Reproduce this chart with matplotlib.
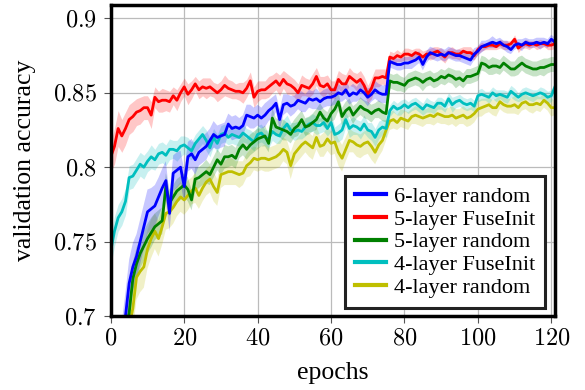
import matplotlib
matplotlib.use('Agg')
import matplotlib.pyplot as plt
import numpy as np

plt.rcParams['font.family'] = ['Liberation Serif', 'DejaVu Serif']
plt.rcParams['mathtext.fontset'] = 'cm'

epochs = np.arange(122)

acc_6_random = [
    0.600, 0.630, 0.660, 0.680, 0.700, 0.722, 0.733, 0.740, 0.750, 0.760,
    0.770, 0.772, 0.774, 0.780, 0.786, 0.791, 0.769, 0.796, 0.798, 0.800,
    0.787, 0.807, 0.809, 0.805, 0.810, 0.812, 0.814, 0.818, 0.822, 0.820,
    0.821, 0.822, 0.829, 0.826, 0.827, 0.826, 0.828, 0.835, 0.834, 0.833,
    0.835, 0.833, 0.835, 0.838, 0.840, 0.843, 0.832, 0.842, 0.843, 0.841,
    0.842, 0.845, 0.844, 0.843, 0.846, 0.845, 0.846, 0.844, 0.846, 0.847,
    0.847, 0.848, 0.850, 0.849, 0.852, 0.848, 0.850, 0.849, 0.852, 0.850,
    0.847, 0.849, 0.852, 0.850, 0.849, 0.849, 0.871, 0.870, 0.869, 0.869,
    0.870, 0.870, 0.871, 0.872, 0.874, 0.869, 0.874, 0.877, 0.876, 0.875,
    0.876, 0.875, 0.877, 0.876, 0.875, 0.875, 0.874, 0.873, 0.872, 0.876,
    0.878, 0.881, 0.882, 0.883, 0.884, 0.883, 0.884, 0.882, 0.881, 0.879,
    0.882, 0.883, 0.882, 0.884, 0.883, 0.883, 0.884, 0.883, 0.884, 0.883,
    0.886, 0.884]
std_6_random = [
    0.016, 0.016, 0.016, 0.016, 0.016, 0.016, 0.016, 0.015, 0.015, 0.015,
    0.015, 0.014, 0.014, 0.013, 0.013, 0.013, 0.012, 0.012, 0.012, 0.011,
    0.011, 0.010, 0.010, 0.010, 0.009, 0.009, 0.009, 0.008, 0.009, 0.008,
    0.008, 0.008, 0.007, 0.008, 0.008, 0.007, 0.007, 0.007, 0.008, 0.007,
    0.007, 0.007, 0.008, 0.007, 0.007, 0.006, 0.007, 0.007, 0.006, 0.007,
    0.006, 0.006, 0.007, 0.006, 0.006, 0.006, 0.007, 0.006, 0.006, 0.006,
    0.006, 0.006, 0.006, 0.005, 0.006, 0.006, 0.006, 0.005, 0.006, 0.006,
    0.006, 0.005, 0.006, 0.006, 0.006, 0.006, 0.004, 0.004, 0.004, 0.004,
    0.004, 0.004, 0.005, 0.004, 0.004, 0.004, 0.004, 0.004, 0.004, 0.004,
    0.004, 0.004, 0.004, 0.004, 0.004, 0.004, 0.004, 0.004, 0.004, 0.004,
    0.003, 0.004, 0.003, 0.003, 0.004, 0.003, 0.003, 0.003, 0.004, 0.003,
    0.003, 0.003, 0.004, 0.003, 0.003, 0.003, 0.003, 0.004, 0.003, 0.003,
    0.003, 0.003]

acc_5_fuse = [
    0.807, 0.814, 0.826, 0.821, 0.826, 0.832, 0.834, 0.837, 0.838, 0.840,
    0.840, 0.835, 0.847, 0.844, 0.845, 0.845, 0.844, 0.848, 0.845, 0.850,
    0.854, 0.849, 0.852, 0.856, 0.852, 0.854, 0.853, 0.854, 0.852, 0.850,
    0.852, 0.855, 0.853, 0.852, 0.851, 0.851, 0.850, 0.853, 0.858, 0.847,
    0.851, 0.852, 0.852, 0.854, 0.856, 0.858, 0.855, 0.859, 0.856, 0.855,
    0.853, 0.850, 0.855, 0.854, 0.853, 0.856, 0.861, 0.855, 0.854, 0.856,
    0.852, 0.852, 0.859, 0.856, 0.856, 0.861, 0.859, 0.857, 0.859, 0.855,
    0.849, 0.853, 0.860, 0.860, 0.861, 0.860, 0.874, 0.873, 0.875, 0.874,
    0.876, 0.876, 0.875, 0.877, 0.876, 0.874, 0.876, 0.876, 0.877, 0.878,
    0.876, 0.874, 0.877, 0.877, 0.876, 0.876, 0.878, 0.877, 0.877, 0.875,
    0.879, 0.881, 0.881, 0.882, 0.882, 0.881, 0.883, 0.882, 0.882, 0.883,
    0.886, 0.880, 0.882, 0.883, 0.882, 0.883, 0.882, 0.883, 0.883, 0.882,
    0.882, 0.883]
std_5_fuse = [
    0.010, 0.012, 0.012, 0.011, 0.011, 0.010, 0.010, 0.009, 0.009, 0.008,
    0.008, 0.009, 0.007, 0.007, 0.008, 0.007, 0.007, 0.006, 0.007, 0.006,
    0.006, 0.007, 0.006, 0.005, 0.006, 0.006, 0.007, 0.006, 0.005, 0.006,
    0.006, 0.007, 0.006, 0.006, 0.005, 0.006, 0.007, 0.006, 0.006, 0.007,
    0.007, 0.006, 0.006, 0.007, 0.006, 0.006, 0.007, 0.006, 0.007, 0.006,
    0.006, 0.006, 0.007, 0.006, 0.006, 0.007, 0.006, 0.006, 0.007, 0.006,
    0.006, 0.006, 0.006, 0.007, 0.006, 0.006, 0.005, 0.006, 0.006, 0.006,
    0.006, 0.007, 0.006, 0.006, 0.005, 0.006, 0.004, 0.004, 0.004, 0.003,
    0.004, 0.004, 0.004, 0.003, 0.004, 0.004, 0.003, 0.004, 0.004, 0.003,
    0.004, 0.004, 0.003, 0.004, 0.003, 0.004, 0.003, 0.004, 0.004, 0.003,
    0.003, 0.003, 0.002, 0.003, 0.003, 0.002, 0.003, 0.003, 0.003, 0.002,
    0.003, 0.003, 0.002, 0.003, 0.003, 0.002, 0.003, 0.003, 0.002, 0.003,
    0.003, 0.003]

acc_5_random = [
    0.600, 0.630, 0.655, 0.675, 0.690, 0.702, 0.725, 0.735, 0.742, 0.747,
    0.752, 0.756, 0.760, 0.762, 0.764, 0.787, 0.776, 0.780, 0.784, 0.786,
    0.788, 0.785, 0.778, 0.792, 0.793, 0.795, 0.797, 0.795, 0.800, 0.805,
    0.802, 0.807, 0.807, 0.808, 0.806, 0.812, 0.815, 0.812, 0.815, 0.817,
    0.819, 0.820, 0.821, 0.816, 0.833, 0.827, 0.826, 0.825, 0.824, 0.822,
    0.826, 0.828, 0.832, 0.827, 0.828, 0.830, 0.832, 0.837, 0.833, 0.831,
    0.836, 0.839, 0.844, 0.834, 0.838, 0.840, 0.835, 0.838, 0.841, 0.839,
    0.838, 0.836, 0.838, 0.839, 0.837, 0.836, 0.858, 0.857, 0.857, 0.856,
    0.855, 0.858, 0.859, 0.860, 0.859, 0.857, 0.859, 0.860, 0.858, 0.859,
    0.861, 0.860, 0.862, 0.861, 0.859, 0.860, 0.858, 0.861, 0.861, 0.862,
    0.863, 0.870, 0.869, 0.867, 0.868, 0.868, 0.867, 0.870, 0.868, 0.866,
    0.866, 0.868, 0.870, 0.868, 0.867, 0.866, 0.866, 0.867, 0.867, 0.868,
    0.869, 0.869]
std_5_random = [
    0.012, 0.012, 0.012, 0.012, 0.012, 0.012, 0.011, 0.011, 0.010, 0.010,
    0.010, 0.010, 0.009, 0.009, 0.009, 0.009, 0.009, 0.008, 0.008, 0.008,
    0.008, 0.008, 0.007, 0.008, 0.007, 0.007, 0.008, 0.007, 0.007, 0.007,
    0.007, 0.008, 0.007, 0.007, 0.007, 0.006, 0.007, 0.007, 0.007, 0.007,
    0.007, 0.006, 0.007, 0.006, 0.007, 0.006, 0.006, 0.007, 0.006, 0.006,
    0.006, 0.007, 0.006, 0.006, 0.006, 0.006, 0.007, 0.006, 0.006, 0.006,
    0.006, 0.007, 0.006, 0.006, 0.006, 0.006, 0.006, 0.005, 0.006, 0.006,
    0.006, 0.006, 0.005, 0.006, 0.006, 0.006, 0.005, 0.005, 0.006, 0.005,
    0.005, 0.005, 0.005, 0.005, 0.005, 0.006, 0.005, 0.005, 0.005, 0.005,
    0.005, 0.005, 0.005, 0.005, 0.006, 0.005, 0.005, 0.005, 0.005, 0.005,
    0.005, 0.005, 0.005, 0.005, 0.006, 0.005, 0.005, 0.005, 0.005, 0.005,
    0.005, 0.006, 0.005, 0.005, 0.005, 0.005, 0.005, 0.005, 0.006, 0.005,
    0.005, 0.005]

acc_4_fuse = [
    0.744, 0.757, 0.766, 0.770, 0.777, 0.793, 0.794, 0.798, 0.802, 0.800,
    0.804, 0.807, 0.805, 0.809, 0.810, 0.808, 0.812, 0.812, 0.811, 0.814,
    0.815, 0.813, 0.811, 0.816, 0.819, 0.822, 0.818, 0.813, 0.820, 0.816,
    0.822, 0.823, 0.820, 0.822, 0.821, 0.820, 0.823, 0.821, 0.819, 0.817,
    0.822, 0.823, 0.820, 0.819, 0.824, 0.822, 0.821, 0.826, 0.829, 0.825,
    0.824, 0.825, 0.824, 0.827, 0.829, 0.830, 0.828, 0.828, 0.830, 0.826,
    0.830, 0.822, 0.823, 0.825, 0.832, 0.826, 0.828, 0.827, 0.825, 0.829,
    0.825, 0.824, 0.820, 0.825, 0.827, 0.826, 0.838, 0.841, 0.839, 0.840,
    0.842, 0.840, 0.842, 0.843, 0.841, 0.839, 0.842, 0.841, 0.840, 0.843,
    0.843, 0.841, 0.846, 0.842, 0.844, 0.845, 0.843, 0.842, 0.843, 0.841,
    0.848, 0.849, 0.848, 0.847, 0.850, 0.848, 0.849, 0.848, 0.847, 0.851,
    0.849, 0.847, 0.849, 0.850, 0.849, 0.848, 0.849, 0.850, 0.849, 0.847,
    0.848, 0.854]
std_4_fuse = [
    0.010, 0.010, 0.009, 0.009, 0.009, 0.008, 0.008, 0.008, 0.008, 0.008,
    0.007, 0.008, 0.007, 0.007, 0.007, 0.007, 0.007, 0.006, 0.007, 0.007,
    0.006, 0.007, 0.006, 0.006, 0.006, 0.006, 0.007, 0.006, 0.006, 0.006,
    0.006, 0.006, 0.005, 0.006, 0.006, 0.006, 0.006, 0.005, 0.006, 0.006,
    0.006, 0.006, 0.005, 0.006, 0.006, 0.006, 0.005, 0.006, 0.006, 0.005,
    0.006, 0.006, 0.005, 0.006, 0.005, 0.006, 0.006, 0.005, 0.006, 0.005,
    0.006, 0.005, 0.006, 0.006, 0.005, 0.006, 0.006, 0.005, 0.006, 0.006,
    0.005, 0.006, 0.006, 0.006, 0.005, 0.006, 0.004, 0.004, 0.004, 0.005,
    0.004, 0.004, 0.004, 0.004, 0.004, 0.004, 0.005, 0.004, 0.004, 0.004,
    0.004, 0.004, 0.004, 0.005, 0.004, 0.004, 0.004, 0.004, 0.004, 0.004,
    0.004, 0.004, 0.003, 0.004, 0.004, 0.004, 0.003, 0.004, 0.004, 0.004,
    0.004, 0.003, 0.004, 0.004, 0.004, 0.004, 0.003, 0.004, 0.004, 0.004,
    0.004, 0.004]

acc_4_random = [
    0.590, 0.620, 0.645, 0.665, 0.680, 0.693, 0.705, 0.726, 0.730, 0.733,
    0.745, 0.752, 0.757, 0.752, 0.760, 0.769, 0.770, 0.773, 0.777, 0.780,
    0.778, 0.781, 0.784, 0.786, 0.781, 0.786, 0.790, 0.792, 0.787, 0.783,
    0.795, 0.796, 0.797, 0.797, 0.796, 0.795, 0.796, 0.801, 0.803, 0.806,
    0.805, 0.806, 0.806, 0.805, 0.806, 0.807, 0.809, 0.812, 0.810, 0.801,
    0.809, 0.812, 0.815, 0.817, 0.815, 0.813, 0.820, 0.814, 0.815, 0.819,
    0.816, 0.817, 0.810, 0.806, 0.812, 0.818, 0.817, 0.815, 0.814, 0.816,
    0.817, 0.814, 0.810, 0.815, 0.818, 0.825, 0.831, 0.832, 0.830, 0.833,
    0.832, 0.831, 0.834, 0.835, 0.834, 0.833, 0.834, 0.835, 0.834, 0.836,
    0.835, 0.834, 0.834, 0.835, 0.833, 0.834, 0.835, 0.833, 0.834, 0.836,
    0.839, 0.840, 0.841, 0.842, 0.840, 0.840, 0.844, 0.842, 0.841, 0.841,
    0.842, 0.840, 0.843, 0.844, 0.842, 0.842, 0.843, 0.842, 0.845, 0.843,
    0.840, 0.840]
std_4_random = [
    0.016, 0.016, 0.016, 0.016, 0.016, 0.016, 0.015, 0.015, 0.014, 0.014,
    0.013, 0.013, 0.012, 0.012, 0.012, 0.011, 0.011, 0.011, 0.010, 0.010,
    0.010, 0.010, 0.009, 0.010, 0.009, 0.009, 0.009, 0.009, 0.010, 0.009,
    0.009, 0.008, 0.009, 0.009, 0.008, 0.009, 0.008, 0.008, 0.009, 0.008,
    0.008, 0.008, 0.009, 0.008, 0.008, 0.008, 0.009, 0.008, 0.008, 0.009,
    0.008, 0.008, 0.008, 0.007, 0.008, 0.008, 0.008, 0.007, 0.008, 0.008,
    0.008, 0.008, 0.009, 0.009, 0.008, 0.008, 0.007, 0.008, 0.008, 0.008,
    0.008, 0.009, 0.008, 0.008, 0.007, 0.007, 0.006, 0.006, 0.005, 0.006,
    0.006, 0.006, 0.005, 0.006, 0.006, 0.006, 0.005, 0.006, 0.006, 0.006,
    0.006, 0.005, 0.006, 0.006, 0.006, 0.005, 0.006, 0.006, 0.006, 0.006,
    0.005, 0.006, 0.005, 0.005, 0.005, 0.006, 0.005, 0.005, 0.005, 0.005,
    0.006, 0.005, 0.005, 0.005, 0.005, 0.006, 0.005, 0.005, 0.005, 0.005,
    0.006, 0.005]

labels = ['6-layer random', '5-layer FuseInit', '5-layer random',
          '4-layer FuseInit', '4-layer random']
colors = ['#0000ff', '#ff0000', '#008000', '#00bfbf', '#bfbf00']
means = [acc_6_random, acc_5_fuse, acc_5_random, acc_4_fuse, acc_4_random]
stds = [std_6_random, std_5_fuse, std_5_random, std_4_fuse, std_4_random]
xticks = [0, 20, 40, 60, 80, 100, 120]
yticks = [0.7, 0.75, 0.8, 0.85, 0.9]

fig = plt.figure(figsize=(5.85, 3.9), dpi=100)
ax = fig.add_axes([0.1894, 0.1897, 0.7593, 0.7975])

# draw back to front so the blue curve ends up on top
for m, s, c, lab in reversed(list(zip(means, stds, colors, labels))):
    m = np.array(m)
    s = np.array(s)
    ax.fill_between(epochs, m - s, m + s, color=c, alpha=0.22, lw=0)
    ax.plot(epochs, m, color=c, lw=2.0, label=lab)

ax.set_xlim(0, 121)
ax.set_ylim(0.7, 0.909)
ax.set_xticks(xticks)
ax.set_xticklabels(['$%d$' % t for t in xticks])
ax.set_yticks(yticks)
ax.set_yticklabels(['$%g$' % t for t in yticks])
ax.tick_params(labelsize=17.5, direction='out', length=5, width=0.8,
               color='#555555', pad=5)
ax.tick_params(axis='x', pad=4)
ax.grid(True, color='#bbbbbb', lw=0.9)
ax.set_axisbelow(True)
for sp in ax.spines.values():
    sp.set_linewidth(2.5)
    sp.set_color('black')

ax.set_xlabel('epochs', fontsize=18.5, labelpad=9)
ax.set_ylabel('validation accuracy', fontsize=18.5, labelpad=12)

handles, labs = ax.get_legend_handles_labels()
order = [labs.index(l) for l in labels]
leg = ax.legend([handles[i] for i in order], labels, loc='lower right',
                fontsize=16, handlelength=1.4, handletextpad=0.35,
                labelspacing=0.1, borderpad=0.45, borderaxespad=0,
                fancybox=False, framealpha=1, edgecolor='#222222',
                bbox_to_anchor=(0.9775, 0.026))
leg.get_frame().set_linewidth(2.2)
for h in leg.get_lines():
    h.set_linewidth(3)

fig.savefig('out.png', dpi=100)
